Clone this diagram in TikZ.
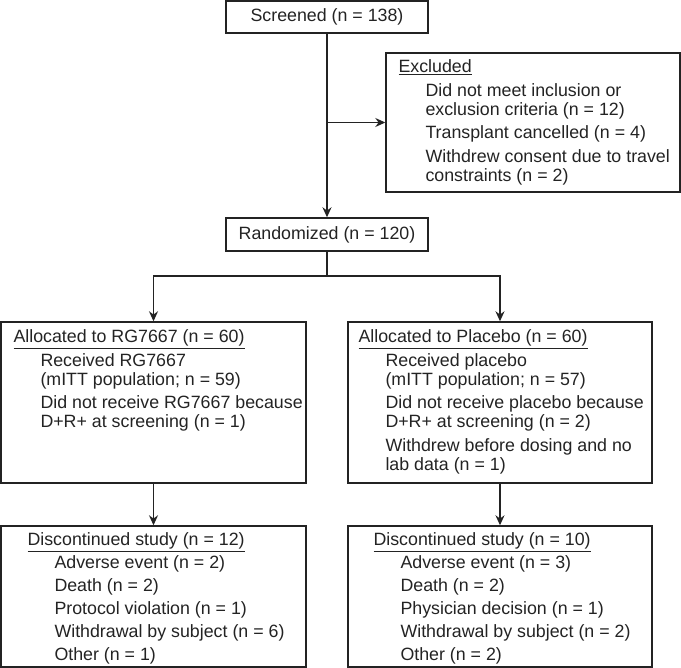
\documentclass[tikz,border=0pt]{standalone}
\usepackage{fontspec}
\setmainfont{Liberation Sans}
\usetikzlibrary{arrows.meta,positioning}
\definecolor{ln}{RGB}{35,35,35}
\newcommand{\indt}{\hspace*{27pt}}
\newcommand{\uln}[1]{\underline{#1}}
\newenvironment{lines}{\begin{tabular}{@{}l@{}}}{\end{tabular}}

\begin{document}
\begin{tikzpicture}[x=1pt,y=-1pt]
\tikzstyle{every node}+=[inner sep=0pt,text=ln]
\tikzstyle{box}=[draw=ln,line width=1.4pt,rectangle,font=\fontsize{17.8}{19}\selectfont]
\tikzstyle{txt}=[font=\fontsize{17.8}{19}\selectfont]
\tikzstyle{wire}=[draw=ln,line width=1.4pt]
\tikzstyle{arr}=[wire,-{Stealth[length=10pt,width=9pt]}]
\useasboundingbox (0,0) rectangle (681,668);
% boxes
\node[box,minimum width=202pt,minimum height=32pt] (scr) at (327,17) {Screened (n = 138)};
\node[box,minimum width=294pt,minimum height=139pt] (excl) at (533,122.5) {};
\node[box,minimum width=202pt,minimum height=33pt] (rand) at (327,234.5) {Randomized (n = 120)};
\node[box,minimum width=305pt,minimum height=161pt] (alA) at (153.5,402.5) {};
\node[box,minimum width=304pt,minimum height=161pt] (alP) at (500,402.5) {};
\node[box,minimum width=305pt,minimum height=141pt] (dcA) at (153.5,596.5) {};
\node[box,minimum width=304pt,minimum height=141pt] (dcP) at (500,596.5) {};
% texts
\node[txt,below right=7pt and 13pt of excl.north west] (excltxt) {\begin{lines}
\uln{Excluded}\\[4.5pt]
\indt Did not meet inclusion or\\
\indt exclusion criteria (n = 12)\\[4.5pt]
\indt Transplant cancelled (n = 4)\\[4.5pt]
\indt Withdrew consent due to travel\\
\indt constraints (n = 2)
\end{lines}};
\node[txt,below right=8pt and 13pt of alA.north west] (alAtxt) {\begin{lines}
\uln{Allocated to RG7667 (n = 60)}\\[4.5pt]
\indt Received RG7667\\
\indt (mITT population; n = 59)\\[4.5pt]
\indt Did not receive RG7667 because\\
\indt D+R+ at screening (n = 1)
\end{lines}};
\node[txt,below right=8pt and 11pt of alP.north west] (alPtxt) {\begin{lines}
\uln{Allocated to Placebo (n = 60)}\\[4.5pt]
\indt Received placebo\\
\indt (mITT population; n = 57)\\[4.5pt]
\indt Did not receive placebo because\\
\indt D+R+ at screening (n = 2)\\[4.5pt]
\indt Withdrew before dosing and no\\
\indt lab data (n = 1)
\end{lines}};
\node[txt,below right=7pt and 27pt of dcA.north west] (dcAtxt) {\begin{lines}
\uln{Discontinued study (n = 12)}\\[4pt]
\indt Adverse event (n = 2)\\[4pt]
\indt Death (n = 2)\\[4pt]
\indt Protocol violation (n = 1)\\[4pt]
\indt Withdrawal by subject (n = 6)\\[4pt]
\indt Other (n = 1)
\end{lines}};
\node[txt,below right=7pt and 26pt of dcP.north west] (dcPtxt) {\begin{lines}
\uln{Discontinued study (n = 10)}\\[4pt]
\indt Adverse event (n = 3)\\[4pt]
\indt Death (n = 2)\\[4pt]
\indt Physician decision (n = 1)\\[4pt]
\indt Withdrawal by subject (n = 2)\\[4pt]
\indt Other (n = 2)
\end{lines}};
% connectors
\coordinate (split) at (327,276);
\draw[arr] (scr) -- (rand);
\draw[arr] (scr.south |- excl.west) -- (excl.west);
\draw[wire] (rand) -- (split);
\draw[arr] (split) -| (alA);
\draw[arr] (split) -| (alP);
\draw[arr] (alA) -- (dcA);
\draw[arr] (alP) -- (dcP);
\end{tikzpicture}
\end{document}
